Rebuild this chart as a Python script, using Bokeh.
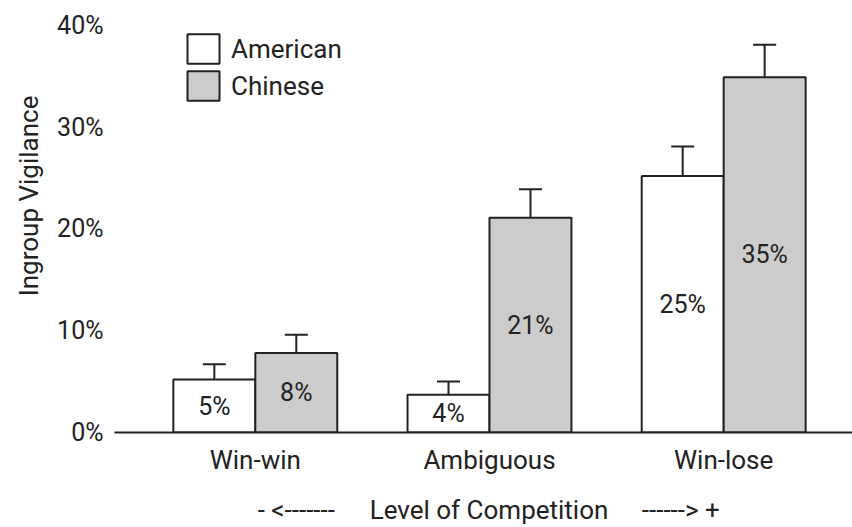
from bokeh.plotting import figure
from bokeh.models import (ColumnDataSource, Range1d, FixedTicker, Whisker, TeeHead,
                          Legend, LegendItem, LinearAxis, Title)
from bokeh.core.properties import value
from bokeh.embed import file_html
from bokeh.resources import INLINE

# ---- data ----
categories = ["Win-win", "Ambiguous", "Win-lose"]
series_names = ["American", "Chinese"]
american = [5.2, 3.7, 25.2]
chinese = [7.8, 21.1, 34.9]
american_err = [1.5, 1.3, 2.9]
chinese_err = [1.8, 2.8, 3.2]
y_ticks = [0, 10, 20, 30, 40]
y_tick_labels = ["0%", "10%", "20%", "30%", "40%"]
x_axis_title = "Level of Competition"
y_axis_title = "Ingroup Vigilance"
arrow_left = "- <-------"
arrow_right = "------> +"

# ---- styling ----
FONT = "Roboto"
FS_NUM = "25px"
FS_TXT = "26px"
INK = "#222222"
GRAY = "#cccccc"
BAR_W = 0.35

p = figure(width=852, height=527,
           x_range=Range1d(-0.6013, 2.5501), y_range=Range1d(0, 41.96),
           output_backend="svg", toolbar_location=None,
           min_border_left=113, min_border_right=0, min_border_top=5, min_border_bottom=94)
p.outline_line_color = None
p.xgrid.visible = False
p.ygrid.visible = False
p.background_fill_color = "white"
p.border_fill_color = "white"

xs = list(range(len(categories)))

def make_source(vals, errs, offset):
    return ColumnDataSource(dict(
        x=[i + offset for i in xs],
        top=vals,
        upper=[v + e for v, e in zip(vals, errs)],
        mid=[v / 2 for v in vals],
        label=[f"{round(v)}%" for v in vals],
    ))

src_am = make_source(american, american_err, -BAR_W / 2)
src_ch = make_source(chinese, chinese_err, BAR_W / 2)

r_am = p.vbar(x="x", top="top", width=BAR_W, bottom=0, source=src_am,
              fill_color="white", line_color=INK, line_width=2)
r_ch = p.vbar(x="x", top="top", width=BAR_W, bottom=0, source=src_ch,
              fill_color=GRAY, line_color=INK, line_width=2)

for src in (src_am, src_ch):
    w = Whisker(base="x", lower="top", upper="upper", source=src,
                line_color=INK, line_width=2, lower_head=None,
                upper_head=TeeHead(size=23, line_color=INK, line_width=2))
    p.add_layout(w)
    p.text(x="x", y="mid", text="label", source=src, text_align="center",
           text_baseline="middle", text_font=value(FONT), text_font_size=FS_NUM,
           text_color=INK)

# ---- axes ----
xa = p.xaxis[0]
xa.ticker = FixedTicker(ticks=xs)
xa.major_label_overrides = {i: c for i, c in zip(xs, categories)}
xa.axis_line_color = INK
xa.axis_line_width = 2
xa.major_tick_line_color = None
xa.minor_tick_line_color = None
xa.major_tick_out = 0
xa.major_label_standoff = 12
xa.major_label_text_font = FONT
xa.major_label_text_font_size = FS_TXT
xa.major_label_text_color = INK

# second row under the categories: arrows and the axis title
row2_pos = [0.175, 0.998, 1.817]
row2_txt = [arrow_left, x_axis_title, arrow_right]
xa2 = LinearAxis(ticker=FixedTicker(ticks=row2_pos),
                 major_label_overrides={x: t for x, t in zip(row2_pos, row2_txt)},
                 axis_line_color=None, major_tick_line_color=None,
                 minor_tick_line_color=None, major_tick_out=0, major_tick_in=0,
                 major_label_standoff=17, major_label_text_font=FONT,
                 major_label_text_font_size=FS_TXT, major_label_text_color=INK)
p.add_layout(xa2, "below")

ya = p.yaxis[0]
ya.ticker = FixedTicker(ticks=y_ticks)
ya.major_label_overrides = {t: l for t, l in zip(y_ticks, y_tick_labels)}
ya.axis_line_color = None
ya.major_tick_line_color = None
ya.minor_tick_line_color = None
ya.major_tick_out = 0
ya.major_label_standoff = 11
ya.major_label_text_font = FONT
ya.major_label_text_font_size = FS_NUM
ya.major_label_text_color = INK

ytitle = Title(text=y_axis_title, align="right", offset=90, standoff=22,
               text_font=FONT, text_font_size=FS_TXT, text_font_style="normal",
               text_color=INK)
p.add_layout(ytitle, "left")

# ---- legend ----
legend = Legend(items=[LegendItem(label=series_names[0], renderers=[r_am]),
                       LegendItem(label=series_names[1], renderers=[r_ch])],
                location=(69, 328), orientation="vertical",
                glyph_width=40, glyph_height=37, spacing=0, padding=0, margin=0,
                label_standoff=8, label_text_font=FONT, label_text_font_size=FS_TXT,
                label_text_color=INK, label_text_baseline="middle",
                border_line_color=None, background_fill_alpha=0)
p.add_layout(legend)

open("out.html", "w").write(file_html(p, INLINE))
